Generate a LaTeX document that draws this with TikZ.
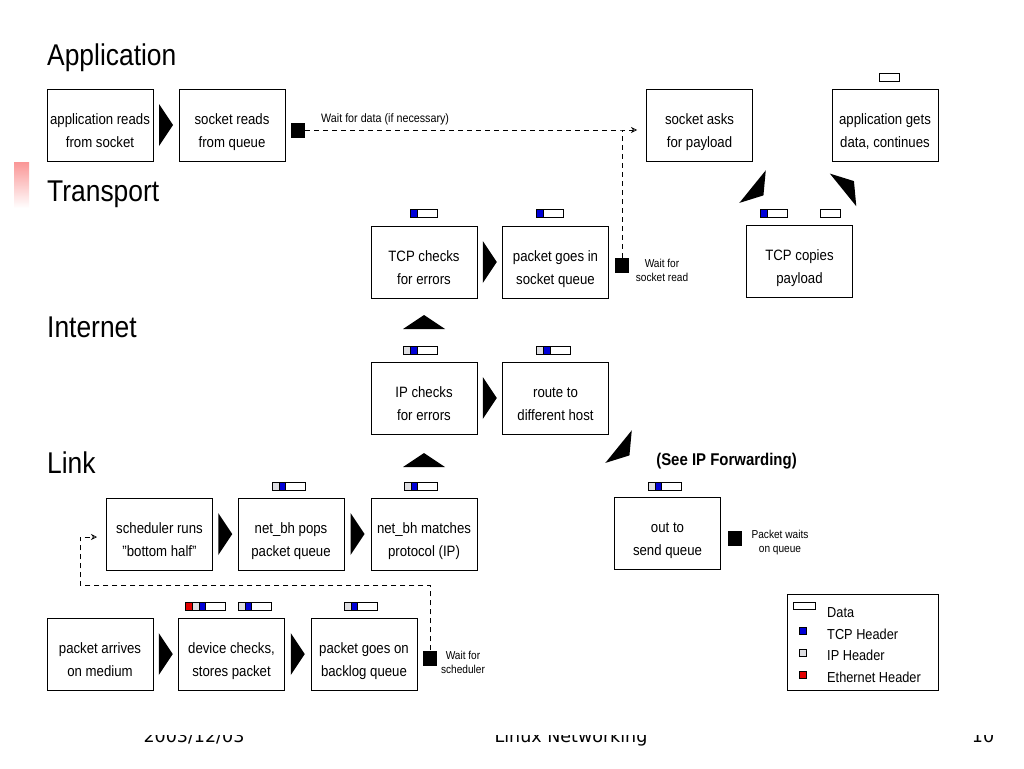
\documentclass[tikz,border=0pt]{standalone}
\usepackage{fontspec}
\setmainfont{Liberation Sans}[FakeStretch=0.88]
\newfontfamily\slidefoot{DejaVu Sans}
\usetikzlibrary{arrows.meta,calc}

\definecolor{tcp color}{RGB}{0,0,215}
\definecolor{ip color}{RGB}{222,222,226}
\definecolor{eth color}{RGB}{225,0,0}
\definecolor{bar color}{RGB}{250,150,150}

\tikzset{
  stage/.style={draw, line width=.8pt, minimum width=106pt, minimum height=72pt,
    align=center, inner sep=0pt, font=\fontsize{15}{23}\selectfont,
    text height=48pt, text depth=4pt},
  layer/.style={anchor=base west, inner sep=0pt, font=\fontsize{30}{36}\selectfont},
  waitbox/.style={fill=black, minimum width=14pt, minimum height=15pt, inner sep=0pt},
  waitnote/.style={align=center, inner sep=0pt, font=\fontsize{11.5}{14}\selectfont},
  waitline/.style={line width=.7pt, dash pattern=on 5pt off 4pt},
  legtext/.style={anchor=west, inner sep=0pt, font=\fontsize{14.5}{16}\selectfont},
  foottext/.style={anchor=base, font=\slidefoot\fontsize{17.5}{20}\selectfont},
  hdr/.style={draw, line width=.6pt},
  wedge/.pic={\fill (-7,-21) -- (7,0) -- (-7,21) -- cycle;}
}

% packet icon: data block at #1, headers stacked to its left
\newcommand\packet[2]{%
  \begin{scope}[shift={#1}]
    \draw[hdr, fill=white] (0,0) rectangle (20,8);
    \foreach \c [count=\i] in {#2}
      \filldraw[hdr, fill=\c] ({-\i*6.7},0) rectangle ++(6.7,8);
  \end{scope}}
\newcommand\datablock[1]{\draw[hdr, fill=white] #1 rectangle ++(20,8);}

\begin{document}
\begin{tikzpicture}[x=1pt, y=-1pt]
	\useasboundingbox (0,0) rectangle (1024,768);
	\fill[white] (0,0) rectangle (1024,768);
	\shade[top color=bar color, bottom color=white] (14,162) rectangle (29,208);

	% layer titles
	\node[layer] at (47,66) {Application};
	\node[layer] at (47,201) {Transport};
	\node[layer] at (47,337) {Internet};
	\node[layer] at (47,473) {Link};

	% stages
	\node[stage] (appread) at (100,125) {application reads\\from socket};
	\node[stage] (sockread) at (232,125) {socket reads\\from queue};
	\node[stage] (sockask) at (699.5,125.5) {socket asks\\for payload};
	\node[stage] (appgets) at (885,125.5) {application gets\\data, continues};

	\node[stage] (tcpcheck) at (424,262) {TCP checks\\for errors};
	\node[stage] (sockqueue) at (555.5,262) {packet goes in\\socket queue};
	\node[stage] (tcpcopy) at (799.5,261.5) {TCP copies\\payload};

	\node[stage] (ipcheck) at (424,398) {IP checks\\for errors};
	\node[stage] (route) at (555.5,398) {route to\\different host};

	\node[stage] (sched) at (159.5,534) {scheduler runs\\"bottom half"};
	\node[stage] (netbhpop) at (291,534) {net\_bh pops\\packet queue};
	\node[stage] (netbhmatch) at (424,534) {net\_bh matches\\protocol (IP)};
	\node[stage] (outsend) at (667.5,533.5) {out to\\send queue};

	\node[stage] (arrives) at (100,654) {packet arrives\\on medium};
	\node[stage] (devcheck) at (231.5,654) {device checks,\\stores packet};
	\node[stage] (backlog) at (364,654) {packet goes on\\backlog queue};

	% flow arrows
	\pic at ($(appread.east)!.5!(sockread.west)$) {wedge};
	\pic at ($(tcpcheck.east)!.5!(sockqueue.west)$) {wedge};
	\pic at ($(ipcheck.east)!.5!(route.west)$) {wedge};
	\pic at ($(sched.east)!.5!(netbhpop.west)$) {wedge};
	\pic at ($(netbhpop.east)!.5!(netbhmatch.west)$) {wedge};
	\pic at ($(arrives.east)!.5!(devcheck.west)$) {wedge};
	\pic at ($(devcheck.east)!.5!(backlog.west)$) {wedge};
	\pic[rotate=90] at (424,460) {wedge};
	\pic[rotate=90] at (424,322) {wedge};
	\pic[rotate=-39] at (624,451) {wedge};
	\pic[rotate=-39] at (758,191) {wedge};
	\pic[rotate=39] at (848.5,185.5) {wedge};

	% packet contents
	\datablock{(879,73)}
	\packet{(767,209)}{tcp color}
	\datablock{(820,209)}
	\packet{(417,209)}{tcp color}
	\packet{(543,209)}{tcp color}
	\packet{(417,346)}{tcp color, ip color}
	\packet{(550,346)}{tcp color, ip color}
	\packet{(661.5,482)}{tcp color, ip color}
	\packet{(285.5,482)}{tcp color, ip color}
	\packet{(417.5,482)}{tcp color, ip color}
	\packet{(205.7,602)}{tcp color, ip color, eth color}
	\packet{(251.7,602)}{tcp color, ip color}
	\packet{(357.5,602)}{tcp color, ip color}

	% waiting points
	\node[waitbox] (waitdata) at (298,130) {};
	\node[waitnote, anchor=west, font=\fontsize{12.2}{14}\selectfont] at (321,119) {Wait for data (if necessary)};
	\node[waitbox] (waitread) at (622,265.5) {};
	\node[waitnote] at (662,270) {Wait for\\socket read};
	\node[waitbox] (waitqueue) at (734.5,538) {};
	\node[waitnote] at (780,543) {Packet waits\\on queue};
	\node[waitbox] (waitsched) at (430,658) {};
	\node[waitnote] at (463,662) {Wait for\\scheduler};

	\coordinate (join) at (622,130);
	\coordinate (askin) at (637,130);
	\coordinate (loop) at (80,585);
	\coordinate (schedin) at (97,537);
	\draw[waitline, -{Stealth[open, length=6pt, width=6pt]}] (waitdata) -- (join) -- (askin);
	\draw[waitline] (waitread.north) -- (join);
	\draw[waitline, -{Stealth[open, length=6pt, width=6pt]}] (waitsched.north) |- (loop) |- (schedin);

	\node[font=\bfseries\fontsize{17}{20}\selectfont, inner sep=0pt] at (726.5,461) {(See IP Forwarding)};

	% legend
	\draw[line width=.8pt] (787,594) rectangle (938,690);
	\draw[hdr, fill=white] (793,602) rectangle (815,609);
	\filldraw[hdr, fill=tcp color] (799.5,627) rectangle ++(6.5,7);
	\filldraw[hdr, fill=ip color] (799.5,649) rectangle ++(6.5,7);
	\filldraw[hdr, fill=eth color] (799.5,671) rectangle ++(6.5,7);
	\node[legtext] at (827,613) {Data};
	\node[legtext] at (827,634) {TCP Header};
	\node[legtext] at (827,655) {IP Header};
	\node[legtext] at (827,677) {Ethernet Header};

	% slide footer, cut off at the top
	\begin{scope}
		\clip (0,735) rectangle (1024,768);
		\node[foottext] at (194,742) {2003/12/03};
		\node[foottext] at (571,742) {Linux Networking};
		\node[foottext] at (983,742) {10};
	\end{scope}
\end{tikzpicture}
\end{document}
